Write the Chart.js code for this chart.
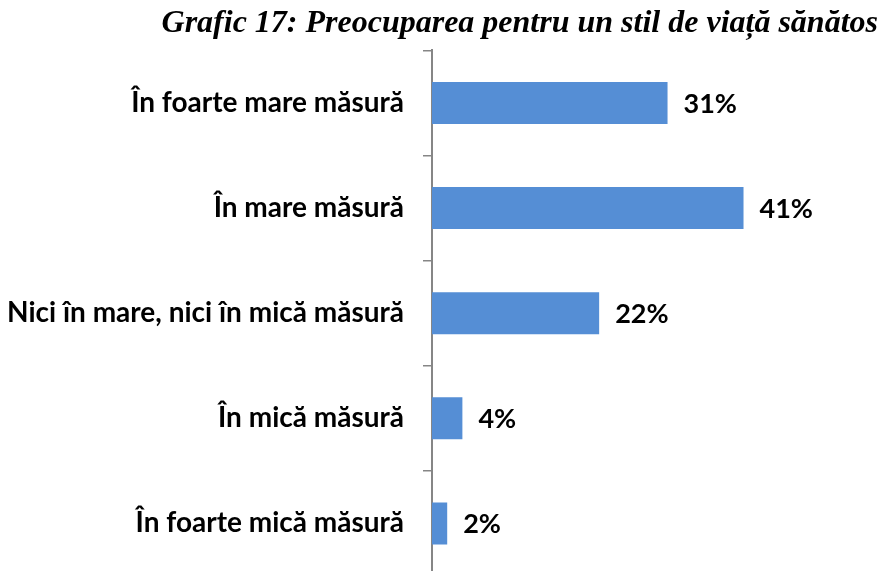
<!DOCTYPE html>
<html>
<head>
<meta charset="utf-8">
<script src="https://cdn.jsdelivr.net/npm/chart.js@4"></script>
<style>
  html, body { margin: 0; padding: 0; background: #fff; overflow: hidden; }
</style>
</head>
<body>
<canvas id="grafic" width="883" height="576"></canvas>
<script>
const categorii = [
    "În foarte mare măsură",
    "În mare măsură",
    "Nici în mare, nici în mică măsură",
    "În mică măsură",
    "În foarte mică măsură"
];
const procente = [31, 41, 22, 4, 2];
const titlu = "Grafic 17: Preocuparea pentru un stil de viață sănătos";

// etichete cu procentul langa fiecare bara
const eticheteBare = {
    id: "eticheteBare",
    afterDatasetsDraw(chart) {
        const ctx = chart.ctx;
        const meta = chart.getDatasetMeta(0);
        ctx.save();
        ctx.font = "bold 27px Lato";
        ctx.fillStyle = "#000";
        ctx.textBaseline = "middle";
        ctx.textAlign = "left";
        meta.data.forEach((bar, i) => {
            ctx.fillText(procente[i] + "%", bar.x + 16, bar.y + 1);
        });
        ctx.restore();
    }
};

const ctx = document.getElementById("grafic");

new Chart(ctx, {
    type: "bar",
    data: {
        labels: categorii,
        datasets: [{
            data: procente,
            backgroundColor: "#558ed5",
            borderWidth: 0,
            barPercentage: 0.4,
            categoryPercentage: 1
        }]
    },
    options: {
        indexAxis: "y",
        responsive: false,
        animation: false,
        layout: { padding: { left: 0, right: 5, top: 0, bottom: 0 } },
        plugins: {
            legend: { display: false },
            tooltip: { enabled: false },
            title: {
                display: true,
                text: titlu,
                align: "end",
                color: "#000",
                font: { family: "Liberation Serif", size: 32, style: "italic", weight: "bold", lineHeight: 1.2 },
                padding: { top: 5, bottom: 7 }
            }
        },
        scales: {
            x: {
                display: false,
                min: 0,
                max: 58.7
            },
            y: {
                afterFit(scale) {
                    scale.width = 432;
                    scale.paddingTop = 0;
                    scale.paddingBottom = 0;
                },
                border: { color: "#868686", width: 2 },
                grid: { drawOnChartArea: false, tickLength: 9, color: "#868686", lineWidth: 1.5 },
                ticks: {
                    color: "#000",
                    padding: 19,
                    font: { family: "Lato", size: 28, weight: "bold" }
                }
            }
        }
    },
    plugins: [eticheteBare]
});
</script>
</body>
</html>
